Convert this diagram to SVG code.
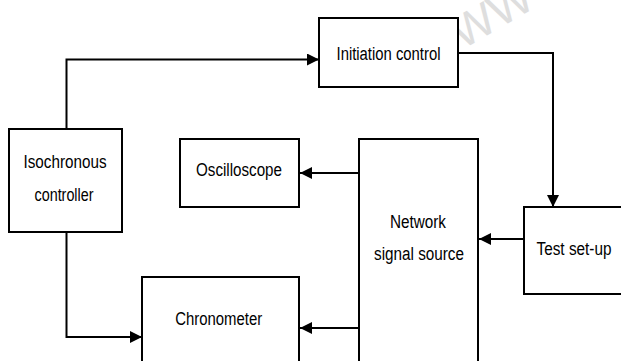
<svg xmlns="http://www.w3.org/2000/svg" width="621" height="361" viewBox="0 0 621 361">
<style>
.box{fill:#fff;stroke:#000;stroke-width:2}
.lbl{font-family:"Liberation Sans",Arial,sans-serif;font-size:18px;fill:#000;text-anchor:middle}
.wire{fill:none;stroke:#000;stroke-width:2}
</style>
<defs>
<marker id="ah" viewBox="0 0 12 12" refX="12" refY="6" markerWidth="12" markerHeight="12" markerUnits="userSpaceOnUse" orient="auto">
<path d="M0,0 L12,6 L0,12 Z" fill="#000"/>
</marker>
</defs>
<rect width="621" height="361" fill="#fff"/>
<text x="462" y="50" transform="rotate(-30 462 50)" font-family="Liberation Sans,Arial,sans-serif" font-size="46" fill="#dedede">WW</text>
<g id="connectors">
<path class="wire" d="M66.5,129 V59.5 H319" marker-end="url(#ah)"/>
<path class="wire" d="M458,53 H553 V207" marker-end="url(#ah)"/>
<path class="wire" d="M66.5,232 V337 H142" marker-end="url(#ah)"/>
<path class="wire" d="M359,173 H300" marker-end="url(#ah)"/>
<path class="wire" d="M359,328 H300" marker-end="url(#ah)"/>
<path class="wire" d="M524,239 H479" marker-end="url(#ah)"/>
</g>
<g id="isochronous">
<rect class="box" x="9" y="129" width="113" height="103"/>
<text class="lbl" x="65" y="168" textLength="83" lengthAdjust="spacingAndGlyphs">Isochronous</text>
<text class="lbl" x="64" y="200.5" textLength="59" lengthAdjust="spacingAndGlyphs">controller</text>
</g>
<g id="initiation">
<rect class="box" x="319" y="18" width="139" height="69"/>
<text class="lbl" x="388.5" y="59.5" textLength="104" lengthAdjust="spacingAndGlyphs">Initiation control</text>
</g>
<g id="oscilloscope">
<rect class="box" x="180" y="139" width="119" height="68"/>
<text class="lbl" x="239" y="176" textLength="86" lengthAdjust="spacingAndGlyphs">Oscilloscope</text>
</g>
<g id="network">
<rect class="box" x="359" y="139" width="119" height="240"/>
<text class="lbl" x="418" y="228.3" textLength="56" lengthAdjust="spacingAndGlyphs">Network</text>
<text class="lbl" x="419" y="260" textLength="90" lengthAdjust="spacingAndGlyphs">signal source</text>
</g>
<g id="testsetup">
<rect class="box" x="524" y="207" width="110" height="87"/>
<text class="lbl" x="574" y="255" textLength="75" lengthAdjust="spacingAndGlyphs">Test set-up</text>
</g>
<g id="chronometer">
<rect class="box" x="142" y="277" width="157" height="100"/>
<text class="lbl" x="218.7" y="325" textLength="87" lengthAdjust="spacingAndGlyphs">Chronometer</text>
</g>
</svg>
